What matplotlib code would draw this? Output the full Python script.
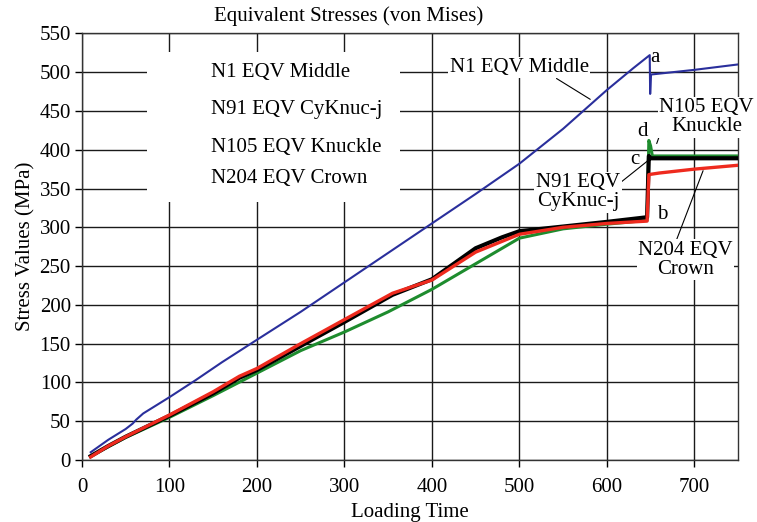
import matplotlib
matplotlib.use('Agg')
import matplotlib.pyplot as plt
from matplotlib.patches import Rectangle

plt.rcParams['font.family'] = ['Liberation Serif', 'DejaVu Serif']

# N1 EQV Middle (blue)
t_n1 = [10, 20, 30, 40, 50, 58, 62, 70, 100, 130, 160, 200, 250, 300, 350, 400,
        450, 500, 550, 600, 630, 649, 649.5, 650.5, 700, 750]
s_n1 = [10, 18, 26, 33, 40, 47, 52, 60, 81, 103, 126, 155, 191, 229, 267, 305,
        343, 382, 427, 477, 505, 522, 472, 497, 503, 510]

# N91 EQV CyKnuc-j (black)
t_n91 = [10, 30, 50, 100, 150, 180, 200, 250, 300, 355, 400, 450, 480, 500, 550,
         600, 646, 648, 650, 700, 750]
s_n91 = [5, 18, 30, 57, 86, 106, 116, 147, 178, 213, 233, 273, 287, 295, 301,
         307, 313, 392, 389, 389, 389]

# N105 EQV Knuckle (green)
t_n105 = [10, 50, 100, 150, 200, 250, 300, 350, 400, 450, 500, 550, 600, 646,
          648, 650, 652, 700, 750]
s_n105 = [5, 29, 55, 83, 112, 141, 165, 191, 220, 253, 286, 298, 304, 309,
          412, 405, 392, 392, 392]

# N204 EQV Crown (red)
t_n204 = [10, 30, 50, 100, 150, 180, 200, 250, 300, 355, 400, 450, 500, 550,
          600, 646, 648, 660, 700, 750]
s_n204 = [4, 18, 30, 58, 88, 108, 118, 150, 181, 215, 232, 268, 291, 300,
          305, 308, 368, 370, 375, 380]

legend_labels = ['N1 EQV Middle', 'N91 EQV CyKnuc-j', 'N105 EQV Knuckle', 'N204 EQV Crown']

fig = plt.figure(figsize=(7.57, 5.22), dpi=100)
ax = fig.add_axes([0.1083, 0.1188, 0.8667, 0.8172])

ax.plot(t_n1, s_n1, color='#2a2f9c', lw=1.5, zorder=3)
ax.plot(t_n105, s_n105, color='#1e8c2e', lw=2.2, zorder=3)
ax.plot(t_n91, s_n91, color='black', lw=3.0, zorder=4)
ax.plot(t_n204, s_n204, color='#ee2a1e', lw=2.4, zorder=5)

ax.set_xlim(0, 750)
ax.set_ylim(0, 550)
ax.set_xticks(range(0, 701, 100))
ax.set_yticks(range(0, 551, 50))
ax.grid(True, color='#1a1a1a', lw=1.0, zorder=1)
ax.set_axisbelow(True)
ax.tick_params(direction='out', length=5, width=1, labelsize=15, pad=3)
ax.tick_params(axis='x', pad=8)
for sp in ax.spines.values():
    sp.set_color('#333333')
    sp.set_linewidth(1.0)

ax.set_xlabel('Loading Time', fontsize=15, labelpad=4)
ax.set_ylabel('Stress Values (MPa)', fontsize=15, labelpad=3)
fig.text(0.46, 0.970, 'Equivalent Stresses (von Mises)', fontsize=15,
         ha='center', va='center')

# text-only legend on a white box
ax.add_patch(Rectangle((74, 333), 290, 193, facecolor='white', edgecolor='none', zorder=2))
for lab, yy in zip(legend_labels, [499, 452, 403, 363]):
    ax.text(147, yy, lab, fontsize=15, ha='left', va='center', zorder=6)

box = dict(facecolor='white', edgecolor='none', pad=1)
arrow = dict(arrowstyle='-', color='black', lw=0.8, shrinkA=0, shrinkB=0)

ax.annotate('N1 EQV Middle', xy=(581, 465), xytext=(500, 506), fontsize=15,
            ha='center', va='center', bbox=box, zorder=6,
            arrowprops=dict(arrow, relpos=(0.75, 0)))
ax.annotate('N105 EQV\nKnuckle', xy=(657, 408), xytext=(714, 442), fontsize=15,
            ha='center', va='center', bbox=box, linespacing=1.0, zorder=6,
            arrowprops=dict(arrow, relpos=(0.05, 0.35)))
ax.annotate('N91 EQV\nCyKnuc-j', xy=(647, 386), xytext=(567, 345), fontsize=15,
            ha='center', va='center', bbox=box, linespacing=1.0, zorder=6,
            arrowprops=dict(arrow, relpos=(1.0, 0.75)))
ax.annotate('N204 EQV\nCrown', xy=(710, 373), xytext=(690, 258), fontsize=15,
            ha='center', va='center', bbox=box, linespacing=1.0, zorder=6,
            arrowprops=dict(arrow, relpos=(0.4, 1.0)))

for ch, tx, sy in [('a', 655, 519), ('d', 641, 423), ('c', 632, 387), ('b', 663, 316)]:
    ax.text(tx, sy, ch, fontsize=15, ha='center', va='center', zorder=7)

fig.savefig('out.png', dpi=100)
